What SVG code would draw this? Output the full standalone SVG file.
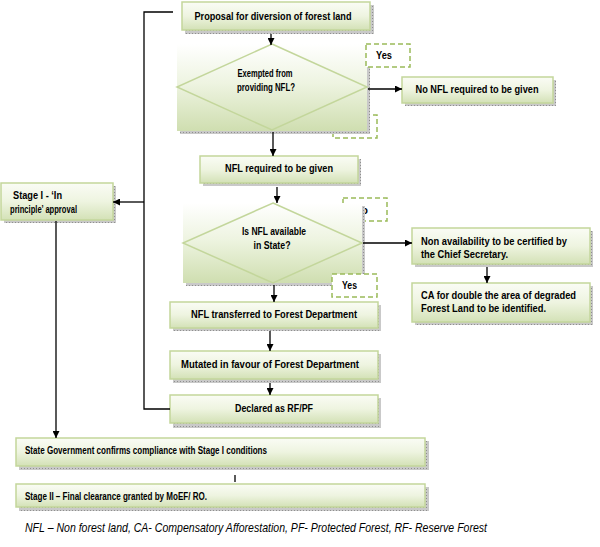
<svg xmlns="http://www.w3.org/2000/svg" width="600" height="547" viewBox="0 0 600 547">
<defs>
<linearGradient id="g" x1="0" y1="0" x2="0" y2="1">
<stop offset="0" stop-color="#fafcf5"/>
<stop offset="0.5" stop-color="#eef4e0"/>
<stop offset="1" stop-color="#d3e1b6"/>
</linearGradient>
<linearGradient id="gd" x1="0" y1="0" x2="0" y2="1">
<stop offset="0" stop-color="#ffffff"/>
<stop offset="0.45" stop-color="#eef4e1"/>
<stop offset="1" stop-color="#cfdeb0"/>
</linearGradient>
<pattern id="dots" width="3" height="3" patternUnits="userSpaceOnUse">
<rect width="3" height="3" fill="#c9c9c9"/>
<rect width="1" height="1" fill="#8f8f8f"/>
</pattern>
<marker id="ah" viewBox="0 0 10 10" refX="10" refY="5" markerWidth="7" markerHeight="7" orient="auto" markerUnits="userSpaceOnUse">
<path d="M0,0 L10,5 L0,10 z" fill="#000"/>
</marker>
</defs>
<style>
.sh{fill:url(#dots)}
.bx{fill:url(#g);stroke:#c3d69b;stroke-width:1.5}
.db{fill:url(#gd);stroke:none}
.dm{fill:none;stroke:#c3d69b;stroke-width:1.5}
.dash{fill:#fff;stroke:#9bbb59;stroke-width:1.5;stroke-dasharray:5 3}
.t{font-family:"Liberation Sans Narrow","Liberation Sans",Arial,sans-serif;font-weight:bold;font-size:10.5px;fill:#000}
.ts{font-family:"Liberation Sans Narrow","Liberation Sans",Arial,sans-serif;font-weight:bold;font-size:10px;fill:#000}
.c{text-anchor:middle}
.ln{stroke:#000;stroke-width:1.3;fill:none}
.ft{font-family:"Liberation Sans Narrow","Liberation Sans",Arial,sans-serif;font-style:italic;font-size:13px;fill:#000}
</style>

<g id="label-no-1">
<rect class="dash" x="333" y="115" width="44" height="23"/>
<text class="t" x="341" y="133">No</text>
</g>
<g id="label-no-2">
<rect class="dash" x="343" y="198" width="44" height="23"/>
<text class="t" x="354" y="214">No</text>
</g>

<g id="proposal">
<rect class="sh" x="185" y="5" width="189" height="29"/>
<rect class="bx" x="182" y="2" width="188" height="28"/>
<text class="t c" x="273" y="20" textLength="157" lengthAdjust="spacingAndGlyphs">Proposal for diversion of forest land</text>
</g>

<g id="decision-exempted">
<rect class="sh" x="180" y="47" width="190" height="87"/>
<rect class="db" x="177" y="44" width="190" height="87"/>
<polygon class="dm" points="272,44 367,87 272,130 177,87"/>
<text class="t c" x="265" y="77" textLength="55" lengthAdjust="spacingAndGlyphs">Exempted from</text>
<text class="t c" x="266" y="91" textLength="58" lengthAdjust="spacingAndGlyphs">providing NFL?</text>
</g>

<g id="label-yes-1">
<rect class="dash" x="366" y="44" width="44" height="23"/>
<text class="t" x="376" y="59" textLength="16" lengthAdjust="spacingAndGlyphs">Yes</text>
</g>

<g id="no-nfl">
<rect class="sh" x="405" y="80" width="151" height="26"/>
<rect class="bx" x="402" y="77" width="151" height="26"/>
<text class="t c" x="477" y="93" textLength="123" lengthAdjust="spacingAndGlyphs">No NFL required to be given</text>
</g>

<g id="nfl-required">
<rect class="sh" x="203" y="159" width="158" height="27"/>
<rect class="bx" x="200" y="156" width="158" height="27"/>
<text class="t c" x="279" y="172" textLength="108" lengthAdjust="spacingAndGlyphs">NFL required to be given</text>
</g>

<g id="decision-available">
<rect class="sh" x="186" y="206" width="179" height="80"/>
<rect class="db" x="183" y="203" width="179" height="80"/>
<polygon class="dm" points="273,203 362,243 273,283 183,243"/>
<text class="t c" x="274" y="235" textLength="64" lengthAdjust="spacingAndGlyphs">Is NFL available</text>
<text class="t c" x="272" y="249" textLength="37" lengthAdjust="spacingAndGlyphs">in State?</text>
</g>

<g id="label-yes-2">
<rect class="dash" x="332" y="274" width="45" height="23"/>
<text class="t" x="342" y="289" textLength="15" lengthAdjust="spacingAndGlyphs">Yes</text>
</g>

<g id="non-availability">
<rect class="sh" x="415" y="231" width="178" height="36"/>
<rect class="bx" x="412" y="228" width="178" height="36"/>
<text class="t" x="421" y="245" textLength="146" lengthAdjust="spacingAndGlyphs">Non availability to be certified by</text>
<text class="t" x="421" y="258" textLength="87" lengthAdjust="spacingAndGlyphs">the Chief Secretary.</text>
</g>

<g id="ca-double">
<rect class="sh" x="415" y="286" width="178" height="39"/>
<rect class="bx" x="412" y="283" width="178" height="39"/>
<text class="t" x="421" y="299" textLength="155" lengthAdjust="spacingAndGlyphs">CA for double the area of degraded</text>
<text class="t" x="421" y="312" textLength="125" lengthAdjust="spacingAndGlyphs">Forest Land to be identified.</text>
</g>

<g id="nfl-transferred">
<rect class="sh" x="173" y="305" width="208" height="26"/>
<rect class="bx" x="170" y="302" width="208" height="26"/>
<text class="t c" x="274" y="318" textLength="166" lengthAdjust="spacingAndGlyphs">NFL transferred to Forest Department</text>
</g>

<g id="mutated">
<rect class="sh" x="173" y="354" width="208" height="29"/>
<rect class="bx" x="170" y="351" width="208" height="28"/>
<text class="t c" x="270" y="368" textLength="178" lengthAdjust="spacingAndGlyphs">Mutated in favour of Forest Department</text>
</g>

<g id="declared">
<rect class="sh" x="173" y="398" width="208" height="30"/>
<rect class="bx" x="170" y="395" width="208" height="28"/>
<text class="t c" x="274" y="412" textLength="78" lengthAdjust="spacingAndGlyphs">Declared as RF/PF</text>
</g>

<g id="stage-1">
<rect class="sh" x="4" y="186" width="112" height="37"/>
<rect class="bx" x="1" y="183" width="112" height="37"/>
<text class="t" x="13" y="199" textLength="49" lengthAdjust="spacingAndGlyphs">Stage I - ‘In</text>
<text class="t" x="10" y="213" textLength="67" lengthAdjust="spacingAndGlyphs">principle’ approval</text>
</g>

<g id="state-gov">
<rect class="sh" x="19" y="441" width="410" height="29"/>
<rect class="bx" x="16" y="438" width="409" height="28"/>
<text class="ts" x="25" y="454" textLength="242" lengthAdjust="spacingAndGlyphs">State Government confirms compliance with Stage I conditions</text>
</g>

<g id="stage-2">
<rect class="sh" x="19" y="487" width="410" height="24"/>
<rect class="bx" x="16" y="484" width="409" height="23"/>
<text class="ts" x="25" y="500" textLength="182" lengthAdjust="spacingAndGlyphs">Stage II – Final clearance granted by MoEF/ RO.</text>
</g>

<g id="connectors">
<line class="ln" x1="271" y1="34" x2="271" y2="45" marker-end="url(#ah)"/>
<line class="ln" x1="368" y1="89" x2="402" y2="89" marker-end="url(#ah)"/>
<line class="ln" x1="273" y1="132" x2="273" y2="156" marker-end="url(#ah)"/>
<line class="ln" x1="277" y1="187" x2="277" y2="203" marker-end="url(#ah)"/>
<line class="ln" x1="363" y1="243" x2="412" y2="243" marker-end="url(#ah)"/>
<line class="ln" x1="487" y1="267" x2="487" y2="283" marker-end="url(#ah)"/>
<line class="ln" x1="274" y1="285" x2="274" y2="302" marker-end="url(#ah)"/>
<line class="ln" x1="270" y1="331" x2="270" y2="351" marker-end="url(#ah)"/>
<line class="ln" x1="270" y1="383" x2="270" y2="395" marker-end="url(#ah)"/>
<polyline class="ln" points="173,12 144,12 144,409 170,409"/>
<line class="ln" x1="144" y1="202" x2="113" y2="202" marker-end="url(#ah)"/>
<line class="ln" x1="56" y1="221" x2="56" y2="438" marker-end="url(#ah)"/>
<line class="ln" x1="235" y1="475" x2="235" y2="482"/>
</g>

<text class="ft" x="25" y="532" textLength="462" lengthAdjust="spacingAndGlyphs">NFL – Non forest land, CA- Compensatory Afforestation, PF- Protected Forest, RF- Reserve Forest</text>
</svg>
